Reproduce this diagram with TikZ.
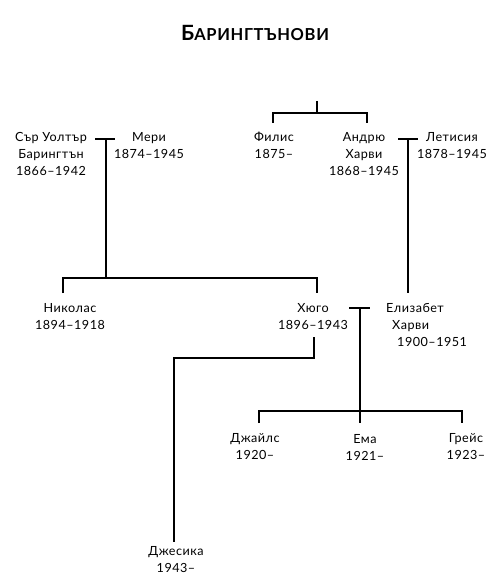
\documentclass[tikz,border=0pt]{standalone}
\usepackage{fontspec}
\setmainfont{Lato}[LetterSpace=4]
\usetikzlibrary{calc}
\begin{document}
\begin{tikzpicture}[x=1pt,y=-1pt,
  person/.style={inner sep=0pt,align=center,font=\fontsize{12.6}{17}\selectfont},
  link/.style={line width=1.1pt}]
\useasboundingbox (0,0) rectangle (497,588);
\node[inner sep=0pt] (title) at (255,33) {\bfseries{\fontsize{21}{21}\selectfont Б}{\fontsize{16.5}{16.5}\selectfont АРИНГТЪНОВИ}};
% people
\node[person] (walter) at (51,154) {Сър Уолтър\\Барингтън\\1866–1942};
\node[person] (mary) at (149,145.5) {Мери\\1874–1945};
\node[person] (philis) at (274,145.5) {Филис\\1875–};
\node[person] (andrew) at (364,154) {Андрю\\Харви\\1868–1945};
\node[person] (leticia) at (452,145.5) {Летисия\\1878–1945};
\node[person] (nicholas) at (70,317) {Николас\\1894–1918};
\node[person] (hugo) at (313,317) {Хюго\\1896–1943};
\node[person,align=left,anchor=west] (elizabeth) at (386,325.5) {Елизабет\\\hspace*{6pt}Харви\\\hspace*{11pt}1900–1951};
\node[person] (giles) at (255,447) {Джайлс\\1920–};
\node[person] (emma) at (365,447) {Ема\\1921–};
\node[person] (grace) at (466,447) {Грейс\\1923–};
\node[person] (jessica) at (176,559.5) {Джесика\\1943–};
% junctions
\coordinate (top) at (317,101);
\coordinate (topj) at (317,113);
\coordinate (m1) at (106,139);
\coordinate (c1) at (106,278);
\coordinate (m2) at (408,139);
\coordinate (m3) at (360,308);
\coordinate (c3) at (360,411);
\coordinate (hj) at (314,358);
% Andrew & Philis siblings
\draw[link] (top) -- (topj);
\draw[link] (273,123) |- (topj) -| (367,123);
% marriage Walter - Mary
\draw[link] ($(m1)+(-11,0)$) -- ($(m1)+(9,0)$);
\draw[link] (m1) -- (c1);
\draw[link] (63,293) |- (c1) -| (317,293);
% marriage Andrew - Leticia
\draw[link] ($(m2)+(-10,0)$) -- ($(m2)+(10,0)$);
\draw[link] (m2) -- (408,293);
% marriage Hugo - Elizabeth
\draw[link] ($(m3)+(-11,0)$) -- ($(m3)+(10,0)$);
\draw[link] (m3) -- (360,423);
\draw[link] (259,423) |- (c3) -| (462,423);
% Hugo - Jessica
\draw[link] (314,337) -- (hj) -| (174,542);
\end{tikzpicture}
\end{document}
